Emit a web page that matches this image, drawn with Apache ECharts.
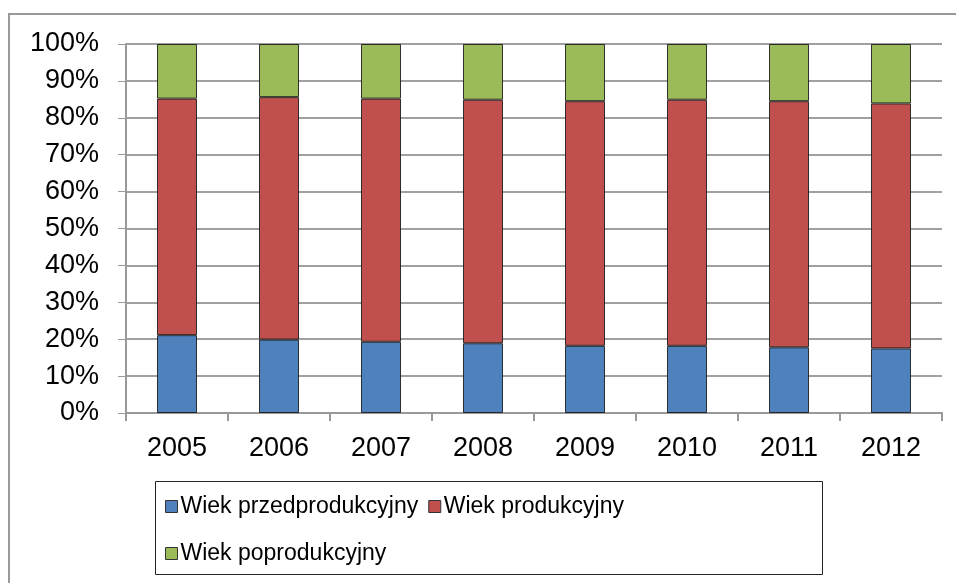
<!DOCTYPE html>
<html>
<head>
<meta charset="utf-8">
<script src="https://cdn.jsdelivr.net/npm/echarts@6/dist/echarts.min.js"></script>
<style>
html,body{margin:0;padding:0;background:#fff;}
#chart{width:956px;height:583px;}
</style>
</head>
<body>
<div id="chart"></div>
<script>
const categories = ['2005','2006','2007','2008','2009','2010','2011','2012'];
const seriesNames = ['Wiek przedprodukcyjny','Wiek produkcyjny','Wiek poprodukcyjny'];
const przedprodukcyjny = [21.1, 19.9, 19.3, 18.9, 18.2, 18.2, 17.8, 17.5];
const produkcyjny      = [64.1, 65.7, 65.9, 66.0, 66.3, 66.7, 66.7, 66.4];
const poprodukcyjny    = [14.8, 14.4, 14.8, 15.1, 15.5, 15.1, 15.5, 16.1];
const colors = ['#4F81BD', '#C0504D', '#9BBB59'];

const font = 'Liberation Sans, Arial, sans-serif';
const chart = echarts.init(document.getElementById('chart'), null, {renderer: 'canvas'});

function mk(name, data, color) {
  return {
    name: name, type: 'bar', stack: 'total', data: data, barWidth: 40,
    itemStyle: {color: color, borderColor: 'rgba(20,20,20,0.85)', borderWidth: 1},
    emphasis: {disabled: true}
  };
}

chart.setOption({
  animation: false,
  backgroundColor: '#fff',
  textStyle: {fontFamily: font},
  grid: {left: 126, right: 14, top: 44, bottom: 170, containLabel: false},
  xAxis: {
    type: 'category', data: categories,
    axisLine: {show: true, lineStyle: {color: '#999', width: 2}},
    axisTick: {show: true, length: 8, lineStyle: {color: '#999', width: 2}},
    axisLabel: {color: '#000', fontSize: 27, margin: 22, fontFamily: font},
    splitLine: {show: false}
  },
  yAxis: {
    type: 'value', min: 0, max: 100, interval: 10,
    axisLine: {show: true, lineStyle: {color: '#999', width: 2}},
    axisTick: {show: true, length: 8, lineStyle: {color: '#999', width: 1}},
    axisLabel: {color: '#000', fontSize: 27, margin: 27, fontFamily: font, formatter: '{value}%'},
    splitLine: {show: true, lineStyle: {color: '#a0a0a0', width: 2}}
  },
  legend: [
    {
      data: [seriesNames[0], seriesNames[1]],
      left: 160, top: 490, orient: 'horizontal',
      itemWidth: 12, itemHeight: 12, itemGap: 10,
      icon: 'rect',
      itemStyle: {borderColor: '#333', borderWidth: 1},
      textStyle: {fontSize: 23, color: '#000', fontFamily: font, padding: [0, 0, 0, -2]},
      selectedMode: false
    },
    {
      data: [seriesNames[2]],
      left: 160, top: 537, orient: 'horizontal',
      itemWidth: 12, itemHeight: 12, itemGap: 10,
      icon: 'rect',
      itemStyle: {borderColor: '#333', borderWidth: 1},
      textStyle: {fontSize: 23, color: '#000', fontFamily: font, padding: [0, 0, 0, -2]},
      selectedMode: false
    }
  ],
  graphic: [
    {type: 'rect', shape: {x: 9, y: 14, width: 1000, height: 600}, style: {fill: 'none', stroke: '#999', lineWidth: 2}, silent: true, z: -1},
    {type: 'rect', shape: {x: 155.5, y: 481.5, width: 667, height: 93}, style: {fill: 'none', stroke: '#222', lineWidth: 1}, silent: true}
  ],
  series: [
    mk(seriesNames[0], przedprodukcyjny, colors[0]),
    mk(seriesNames[1], produkcyjny, colors[1]),
    mk(seriesNames[2], poprodukcyjny, colors[2])
  ]
});
</script>
</body>
</html>
